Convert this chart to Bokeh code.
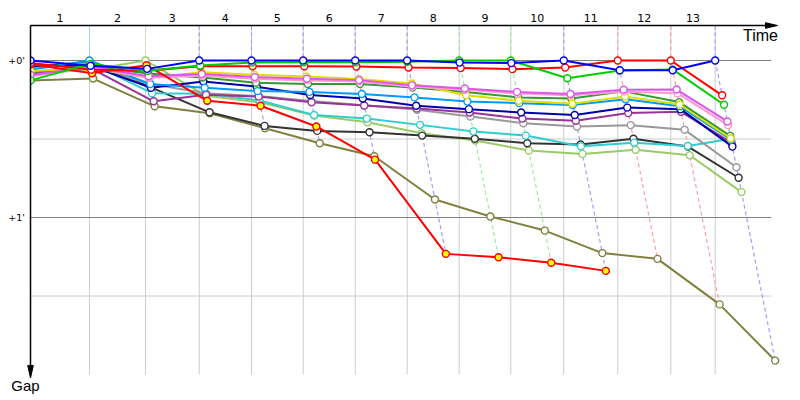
from bokeh.plotting import figure
from bokeh.models import Range1d
from bokeh.core.properties import value
from bokeh.embed import file_html
from bokeh.resources import INLINE

# ---------------- data ----------------
lap_labels = [str(i) for i in range(1, 14)]
# cumulative time (s) of the leader at the end of each lap (index 0 = start)
leader_time = [0, 112.7, 219.8, 322.4, 422.3, 521.1, 620.5, 719.8, 819.2,
               917.8, 1019.1, 1122.3, 1223.6, 1308.4]

# gap to leader (s) at start (0) and at the end of laps 1..13
gap_blue       = [0.0, 2.0, 3.2, 0.0, 0.0, 0.0, 0.0, 0.0, 0.8, 1.0, 0.0, 3.7, 3.7, 0.0]
gap_green      = [7.6, 1.3, 3.9, 1.9, 0.8, 0.7, 0.7, 0.5, 0.0, 0.0, 6.8, 3.8, 3.4, 16.9]
gap_red        = [1.0, 3.5, 3.9, 2.2, 2.2, 2.2, 2.3, 2.7, 2.9, 3.3, 2.7, 0.0, 0.0, 13.3]
gap_yellow     = [4.0, 3.0, 6.6, 4.5, 5.4, 6.1, 7.1, 8.8, 13.3, 15.4, 16.5, 13.8, 16.8, 29.8]
gap_violet     = [5.5, 2.5, 6.0, 5.2, 6.3, 7.0, 7.5, 9.5, 10.7, 12.0, 12.8, 11.2, 11.1, 23.3]
gap_pink       = [6.0, 2.8, 6.6, 5.8, 7.0, 7.6, 8.0, 10.0, 11.2, 12.6, 13.3, 11.9, 12.5, 24.7]
gap_darkgreen  = [4.5, 2.2, 5.0, 6.5, 8.5, 9.0, 9.0, 10.3, 12.0, 14.1, 14.5, 11.8, 15.9, 28.8]
gap_lightblue  = [3.5, 0.0, 9.0, 10.4, 11.7, 12.0, 12.8, 14.1, 15.7, 16.3, 17.0, 14.8, 17.5, 30.3]
gap_navy       = [2.0, 2.0, 10.4, 8.0, 10.0, 13.2, 14.5, 17.3, 18.6, 19.9, 20.8, 18.0, 18.6, 32.9]
gap_purple     = [5.0, 3.0, 15.6, 13.1, 13.8, 16.0, 17.2, 18.3, 19.9, 22.2, 23.0, 20.1, 19.6, 31.5]
gap_gray       = [4.5, 2.5, 9.0, 12.5, 13.6, 15.5, 17.1, 18.8, 21.4, 24.0, 25.2, 24.7, 26.5, 40.8]
gap_cyan       = [3.0, 1.0, 12.5, 12.7, 15.3, 20.8, 22.2, 24.6, 27.1, 28.7, 32.8, 31.4, 32.7, 29.9]
gap_black      = [2.5, 0.6, 10.3, 19.8, 25.0, 26.9, 27.4, 28.7, 29.9, 31.6, 32.1, 29.9, 32.9, 44.8]
gap_lightgreen = [5.0, 3.5, 0.0, 13.5, 16.0, 21.0, 23.6, 27.8, 30.6, 34.4, 35.7, 34.1, 36.2, 50.3]
gap_olive      = [7.6, 6.9, 17.5, 20.2, 25.9, 31.6, 36.6, 53.1, 59.6, 65.0, 73.6, 75.8, 93.2, 114.7]
gap_red2       = [1.4, 4.9, 1.8, 15.4, 17.3, 25.2, 37.9, 73.9, 75.2, 77.3, 80.4, None, None, None]

series = [
    # (gaps, line colour, marker fill)
    (gap_olive, "#808040", "white"),
    (gap_lightgreen, "#99cc66", "white"),
    (gap_black, "#333333", "white"),
    (gap_cyan, "#33cccc", "white"),
    (gap_gray, "#999999", "white"),
    (gap_purple, "#993399", "white"),
    (gap_navy, "#0000aa", "white"),
    (gap_lightblue, "#0099ff", "white"),
    (gap_darkgreen, "#339933", "white"),
    (gap_yellow, "#dddd00", "white"),
    (gap_pink, "#ff99cc", "white"),
    (gap_violet, "#dd55ee", "white"),
    (gap_red2, "#ff0000", "#ffff00"),
    (gap_red, "#ff0000", "white"),
    (gap_green, "#00cc00", "white"),
    (gap_blue, "#0000ff", "white"),
]

# ---------------- scales: time (s) on x, gap (s) on y ----------------
PXS_X = 0.5233   # pixels per second along time
PXS_Y = 2.6167   # pixels per second of gap
X0, Y0 = 30.0, 60.0

def tx(px):
    return (px - X0) / PXS_X

def gy(py):
    return (py - Y0) / PXS_Y

p = figure(width=800, height=400, output_backend="svg", toolbar_location=None,
           x_axis_location=None, y_axis_location=None, min_border=0,
           x_range=Range1d(tx(0), tx(800)), y_range=Range1d(gy(400), gy(0)),
           background_fill_color="white", border_fill_color="white",
           outline_line_color=None)
p.grid.grid_line_color = None

TOP = gy(25)
END_T = tx(770.7)
BOTTOM_G = 120

# grid
laps_t = leader_time[1:]
p.segment(x0=laps_t, y0=[TOP] * len(laps_t), x1=laps_t, y1=[BOTTOM_G] * len(laps_t),
          line_color="#cccccc", line_width=1)
p.segment(x0=[0, 0], y0=[30, 90], x1=[END_T, END_T], y1=[30, 90],
          line_color="#cccccc", line_width=1)
p.segment(x0=[0, 0], y0=[0, 60], x1=[END_T, END_T], y1=[0, 60],
          line_color="#808080", line_width=1)

def lighten(hexc, f=0.62):
    r, g, b = int(hexc[1:3], 16), int(hexc[3:5], 16), int(hexc[5:7], 16)
    r, g, b = [int(c + (255 - c) * f) for c in (r, g, b)]
    return "#%02x%02x%02x" % (r, g, b)

# per-lap dashed "finish line" from the leader through every car
for k in range(1, 14):
    vals = [(s[0][k], s[1]) for s in series if s[0][k] is not None]
    leader_col = min(vals, key=lambda v: v[0])[1]
    gmax = max(v[0] for v in vals)
    t0 = leader_time[k]
    p.line([t0, t0, t0 + gmax], [TOP, 0, gmax], line_color=lighten(leader_col),
           line_width=1.2, line_dash="4 3")

# series
for gaps, col, fill in series:
    xs, ys = [], []
    for k, g in enumerate(gaps):
        if g is None:
            continue
        xs.append(leader_time[k] + (g if k > 0 else 0))
        ys.append(g)
    p.line(xs, ys, line_color=col, line_width=2)
    p.scatter(xs, ys, marker="circle", size=7, fill_color=fill, line_color=col,
              line_width=1.4)

# clip the start markers at the axis
p.quad(left=[tx(0)], right=[tx(29.5)], bottom=[gy(24)], top=[gy(380)],
       fill_color="white", line_color=None)

# axes with arrows
p.line([0, tx(768)], [TOP, TOP], line_color="black", line_width=1.5)
p.patch([tx(765), tx(777), tx(765)], [gy(22.2), gy(25), gy(27.8)],
        fill_color="black", line_color="black", line_width=1)
p.line([0, 0], [TOP, gy(368)], line_color="black", line_width=1.5)
p.patch([tx(27.2), tx(30), tx(32.8)], [gy(365), gy(377.5), gy(365)],
        fill_color="black", line_color="black", line_width=1)

# lap numbers, centred in each lap column
mids = [(leader_time[i] + leader_time[i + 1]) / 2 for i in range(13)]
p.text(x=mids, y=[gy(17.5)] * 13, text=lap_labels, text_align="center",
       text_baseline="middle", text_font=value("DejaVu Sans"),
       text_font_size="11px", text_color="black")

p.text(x=[tx(16), tx(16)], y=[0, 60], text=["+0'", "+1'"], text_align="center",
       text_baseline="middle", text_font=value("DejaVu Sans"),
       text_font_size="9.5px", text_color="black")

p.text(x=[tx(760)], y=[gy(35)], text=["Time"], text_align="center",
       text_baseline="middle", text_font=value("Liberation Sans"),
       text_font_size="16px", text_color="black")
p.text(x=[tx(25)], y=[gy(385)], text=["Gap"], text_align="center",
       text_baseline="middle", text_font=value("Liberation Sans"),
       text_font_size="15px", text_color="black")

open("out.html", "w").write(file_html(p, INLINE))
